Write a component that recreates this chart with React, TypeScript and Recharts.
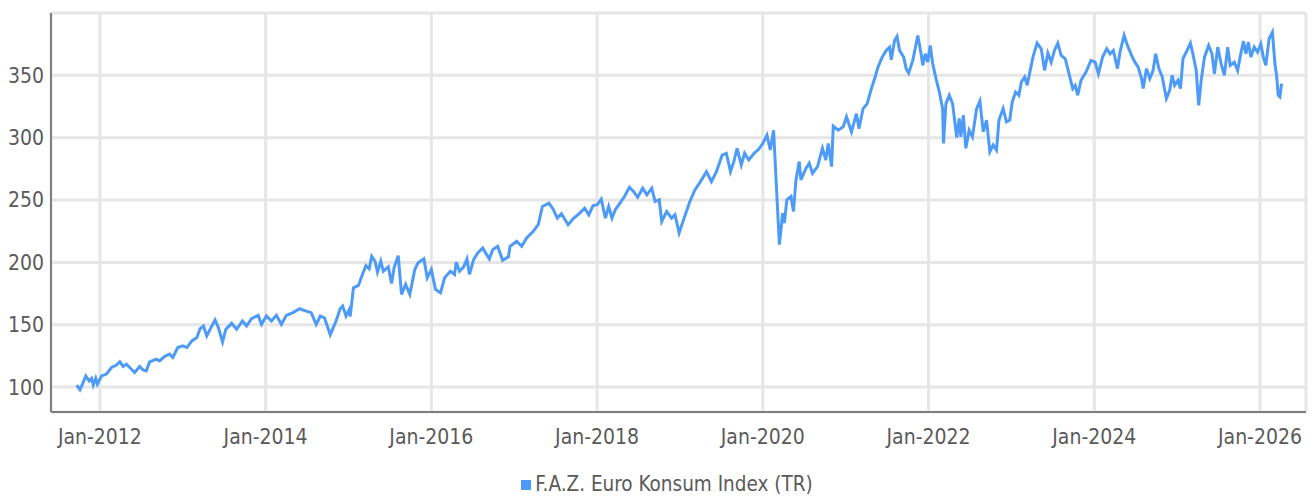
import { LineChart, Line, XAxis, YAxis, CartesianGrid, Legend } from 'recharts'

const SERIES_NAME = 'F.A.Z. Euro Konsum Index (TR)'

// fractional year of each reading
const years = [
  2011.72, 2011.76, 2011.79, 2011.83, 2011.87, 2011.9, 2011.92, 2011.95, 2011.97, 2012.02,
  2012.08, 2012.14, 2012.2, 2012.24, 2012.28, 2012.32, 2012.36, 2012.42, 2012.48, 2012.52,
  2012.56, 2012.6, 2012.68, 2012.72, 2012.78, 2012.84, 2012.88, 2012.94, 2013.0, 2013.05,
  2013.11, 2013.17, 2013.21, 2013.25, 2013.29, 2013.34, 2013.39, 2013.43, 2013.48, 2013.52,
  2013.59, 2013.65, 2013.72, 2013.77, 2013.83, 2013.91, 2013.95, 2014.01, 2014.07, 2014.13,
  2014.19, 2014.25, 2014.33, 2014.41, 2014.49, 2014.55, 2014.61, 2014.66, 2014.71, 2014.78,
  2014.85, 2014.9, 2014.93, 2014.97, 2015.01, 2015.02, 2015.06, 2015.12, 2015.16, 2015.21,
  2015.25, 2015.28, 2015.32, 2015.35, 2015.39, 2015.42, 2015.48, 2015.52, 2015.55, 2015.6,
  2015.64, 2015.69, 2015.74, 2015.8, 2015.84, 2015.91, 2015.95, 2016.0, 2016.05, 2016.11,
  2016.16, 2016.23, 2016.28, 2016.3, 2016.34, 2016.39, 2016.43, 2016.46, 2016.51, 2016.56,
  2016.62, 2016.66, 2016.7, 2016.74, 2016.8, 2016.86, 2016.93, 2016.95, 2017.03, 2017.09,
  2017.15, 2017.23, 2017.29, 2017.34, 2017.42, 2017.47, 2017.52, 2017.57, 2017.65, 2017.72,
  2017.79, 2017.85, 2017.9, 2017.95, 2018.0, 2018.05, 2018.1, 2018.14, 2018.18, 2018.22,
  2018.27, 2018.33, 2018.39, 2018.44, 2018.49, 2018.55, 2018.6, 2018.66, 2018.7, 2018.75,
  2018.78, 2018.84, 2018.9, 2018.94, 2018.99, 2019.05, 2019.12, 2019.18, 2019.24, 2019.32,
  2019.38, 2019.44, 2019.51, 2019.56, 2019.61, 2019.65, 2019.69, 2019.74, 2019.78, 2019.83,
  2019.9, 2019.95, 2020.0, 2020.05, 2020.09, 2020.13, 2020.16, 2020.2, 2020.24, 2020.26,
  2020.29, 2020.34, 2020.37, 2020.4, 2020.44, 2020.46, 2020.52, 2020.56, 2020.6, 2020.66,
  2020.72, 2020.76, 2020.79, 2020.83, 2020.85, 2020.91, 2020.97, 2021.01, 2021.07, 2021.13,
  2021.16, 2021.21, 2021.26, 2021.31, 2021.35, 2021.39, 2021.44, 2021.49, 2021.53, 2021.55,
  2021.59, 2021.62, 2021.65, 2021.7, 2021.73, 2021.76, 2021.81, 2021.87, 2021.91, 2021.93,
  2021.96, 2021.99, 2022.02, 2022.05, 2022.09, 2022.13, 2022.17, 2022.18, 2022.21, 2022.25,
  2022.29, 2022.34, 2022.37, 2022.39, 2022.42, 2022.45, 2022.49, 2022.53, 2022.58, 2022.62,
  2022.66, 2022.7, 2022.74, 2022.78, 2022.82, 2022.85, 2022.9, 2022.94, 2022.98, 2023.01,
  2023.05, 2023.09, 2023.12, 2023.16, 2023.19, 2023.22, 2023.26, 2023.31, 2023.36, 2023.4,
  2023.44, 2023.48, 2023.52, 2023.56, 2023.6, 2023.65, 2023.7, 2023.74, 2023.77, 2023.8,
  2023.84, 2023.9, 2023.96, 2024.01, 2024.05, 2024.1, 2024.15, 2024.19, 2024.23, 2024.28,
  2024.31, 2024.36, 2024.4, 2024.45, 2024.49, 2024.53, 2024.57, 2024.59, 2024.63, 2024.67,
  2024.71, 2024.74, 2024.78, 2024.82, 2024.87, 2024.91, 2024.94, 2024.97, 2025.01, 2025.04,
  2025.07, 2025.12, 2025.16, 2025.19, 2025.23, 2025.26, 2025.29, 2025.33, 2025.38, 2025.42,
  2025.45, 2025.49, 2025.53, 2025.57, 2025.61, 2025.64, 2025.69, 2025.73, 2025.76, 2025.8,
  2025.83, 2025.86, 2025.89, 2025.93, 2025.97, 2026.01, 2026.04, 2026.07, 2026.11, 2026.15,
  2026.18, 2026.2, 2026.22, 2026.24, 2026.26,
]

// index level
const index = [
  101.6, 97.9, 102.4, 109, 105, 107, 101.6, 107, 102.4, 109,
  110.4, 115.7, 117.6, 120.2, 116.5, 118.4, 115.7, 111.7, 116.5, 113.8,
  113, 120.2, 122.4, 121, 124.5, 126.4, 123.7, 131.7, 133, 131.7,
  137, 139.7, 146.9, 149, 141, 147.7, 153.8, 147.7, 136.2, 146.3,
  151.1, 146.3, 153, 149, 154.9, 157.5, 150.3, 157, 153, 157.5,
  150.3, 157.5, 159.7, 162.8, 160.9, 159.7, 150.3, 157, 155.5, 142,
  153, 162.8, 164.9, 157, 162.3, 156.5, 179.6, 181.5, 188.9, 197.4,
  194.8, 204.9, 200.9, 192.1, 200.9, 192.9, 196.4, 183.1, 195.6, 205.4,
  174.3, 182.3, 174.3, 194.2, 199.6, 202.8, 187.6, 194.2, 178.3, 175.6,
  187.6, 192.9, 190.3, 200.1, 192.9, 196.4, 202.8, 190.3, 202.2, 207.6,
  211.6, 207, 202.8, 210.2, 212.9, 201.7, 204.4, 212.9, 216.9, 212.9,
  219.6, 224.9, 230.2, 244.8, 247.5, 242.7, 235.5, 239, 230.2, 235.5,
  239.5, 243.5, 238.2, 245.4, 246.2, 250.7, 235.5, 244.8, 235.5, 242.2,
  247, 252.8, 260.3, 256.8, 252.3, 259.5, 254.2, 259.5, 248.8, 250.2,
  232.8, 240.8, 235.5, 238.2, 223.6, 235.5, 248.8, 258.1, 264, 272.8,
  264.8, 272.8, 286.1, 287.5, 272.8, 280.8, 291.5, 278.1, 287.5, 282.1,
  287.9, 290.7, 295.4, 302, 290.1, 306, 266.1, 214.2, 239.5, 231.5,
  250.2, 252.8, 240.8, 266.1, 280.8, 266.1, 275.4, 279.5, 271.5, 276.8,
  291.5, 282.1, 295.4, 276.8, 309.3, 306, 308.7, 316.7, 304.7, 319.3,
  307.3, 323.3, 327.3, 339.4, 347.4, 356.6, 364.6, 370, 372.6, 362.5,
  378, 381.2, 370, 364.6, 355.4, 351.8, 362, 382, 367.3, 358,
  367.3, 360.6, 374, 359.3, 347.4, 336.7, 323.3, 295.4, 327.3, 334,
  327.3, 300.2, 315.4, 300.7, 318, 291.5, 306, 300.7, 323.3, 329.4,
  304.7, 314.1, 288.7, 294.1, 290.1, 314.1, 323.3, 312.7, 314.1, 328.7,
  336.7, 334, 344.7, 348.7, 342, 351.8, 364.6, 375.8, 371.3, 354,
  367.8, 360.6, 370, 375.8, 366, 363.3, 350, 339.4, 342, 334,
  346, 352.6, 362, 360.6, 351.3, 364.6, 371.3, 367.3, 370, 355.4,
  368.6, 382, 374, 366, 360.6, 356.6, 347.4, 339.4, 355.4, 347.4,
  354, 367.3, 355.4, 348.7, 331.4, 338, 350, 342, 346, 339.4,
  363.3, 370, 375.8, 367.3, 354, 326, 346, 364.6, 374, 367.3,
  351.3, 372.6, 359.3, 350, 372.6, 358, 360.6, 354, 364.6, 377.4,
  367.3, 376.6, 364.6, 372.6, 368.6, 375.3, 364.6, 358, 379.3, 384.6,
  359.3, 350, 334, 332.7, 343.4,
]

const yTicks = [100, 150, 200, 250, 300, 350]
const xTicks = [2012, 2014, 2016, 2018, 2020, 2022, 2024, 2026]

const data = years.map((t, i) => ({ t, value: index[i] }))

const FONT = '"DejaVu Sans Condensed", "Liberation Sans Narrow", sans-serif'
const LINE_COLOR = '#4d9bf7'
const TEXT_COLOR = '#5a5a5a'

export default function App() {
  return (
    <div style={{ position: 'absolute', left: 0, top: 0, fontFamily: FONT }}>
      <LineChart width={1314} height={496} data={data} margin={{ top: 13, right: 8, bottom: 0, left: 0 }}>
        <CartesianGrid stroke="#e6e6e6" strokeWidth={3} />
        <XAxis
          dataKey="t"
          type="number"
          domain={[2011.41, 2026.555]}
          ticks={xTicks}
          tickFormatter={(y) => `Jan-${y}`}
          tickSize={0}
          tickMargin={17}
          height={60}
          stroke="#808080"
          strokeWidth={2}
          tick={{ fill: TEXT_COLOR, fontSize: 21 }}
          allowDataOverflow
        />
        <YAxis
          type="number"
          domain={[80, 400]}
          ticks={yTicks}
          tickSize={0}
          tickMargin={7}
          width={51}
          stroke="#808080"
          strokeWidth={2}
          tick={{ fill: TEXT_COLOR, fontSize: 21 }}
          allowDataOverflow
        />
        <Legend
          verticalAlign="bottom"
          iconType="square"
          iconSize={10}
          wrapperStyle={{ left: 15, width: 1314, bottom: 0, fontSize: 20.5 }}
          formatter={(value) => <span style={{ color: TEXT_COLOR }}>{value}</span>}
        />
        <Line
          type="linear"
          dataKey="value"
          name={SERIES_NAME}
          stroke={LINE_COLOR}
          strokeWidth={3}
          dot={false}
          activeDot={false}
          isAnimationActive={false}
        />
      </LineChart>
    </div>
  )
}
